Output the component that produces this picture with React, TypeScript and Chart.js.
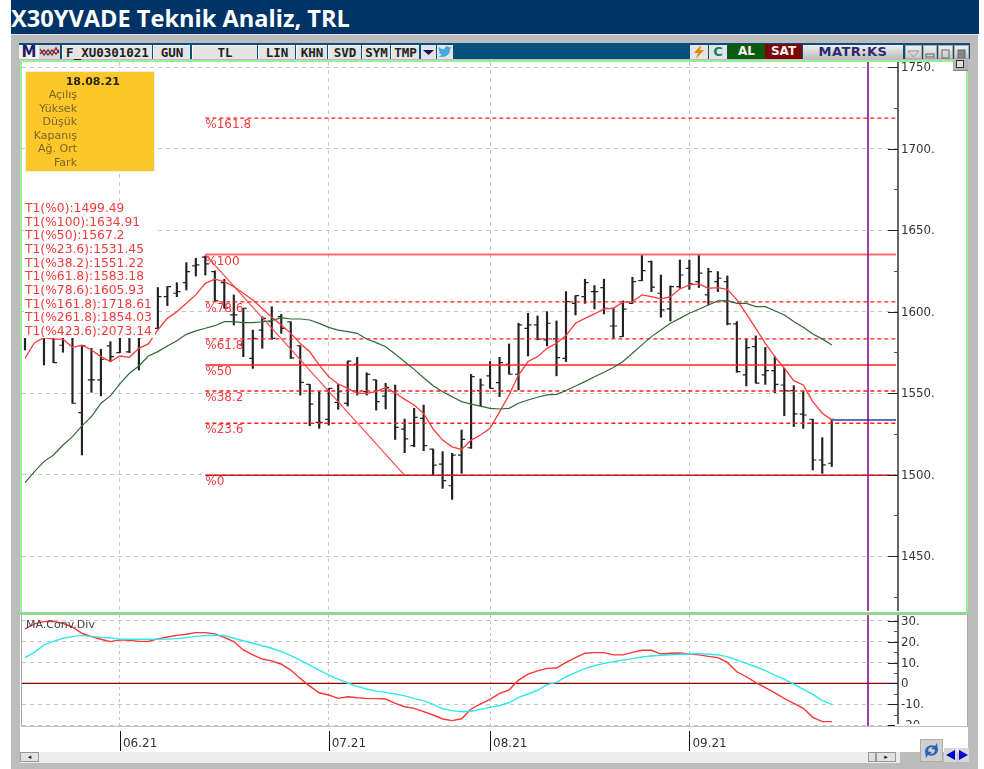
import React, { useEffect, useRef } from "react";
import { Chart, registerables } from "chart.js";

Chart.register(...registerables);

// ---------- price pane data (one entry per trading day, null = not visible) ----------
const highs = [1584.6,null,1584.2,1584.2,1584.2,1584.2,1579.3,1577.4,1576.8,1581.5,1584.6,1584.6,1584.6,1584.5,1614.7,1615.3,1617.7,1630,1632.7,1634.1,1624.9,1619.8,1610.2,1602,1588.6,1596.8,1602.9,1598.2,1593.7,1579,1555.3,1550.8,1552.8,1555.3,1569.6,1571.9,1562.4,1558,1555.9,1554.9,1534,1540.6,1542.6,1515.6,1514,1513,1527.3,1561.4,1558.6,1569.3,1571.9,1580.1,1592.8,1598.9,1597.3,1599.9,1594.2,1612.2,1609.7,1619.8,1615.9,1619.8,1602,1606.5,1621,1634.7,1631,1622.4,1615.7,1631.6,1631.6,1634.7,1626.5,1624.5,1621.8,1593.8,1583.2,1585,1578,1572.3,1565.2,1554.5,1550.9,1533.9,1522.6,1533.9];
const lows = [1576.4,null,1567.2,1568.6,1575,1543.7,1512,1550.4,1548.2,1569.3,1574.8,1574.8,1564.1,1583.9,1589.7,1603.6,1609.1,1613.2,1621.8,1622.4,1606.5,1602,1591.7,1572.3,1565.1,1577.4,1582.9,1586.6,1571.2,1548.7,1529.9,1528.3,1530.3,1540,1542,1548.7,1548.7,1539.5,1540.2,1521.5,1513.4,1517,1514.6,1499.7,1491.5,1484.7,1500.7,1516,1542,1552.9,1547.8,1561.5,1551.9,1572.7,1582.6,1578.9,1560.5,1569.3,1597.9,1605,1601.6,1598.5,1583.6,1584.6,1605,1618.9,1612.2,1596.5,1594.2,1614.2,1613.6,1614.7,1604,1612.2,1591.8,1562.7,1554.3,1556,1555.3,1550.2,1536.1,1529.4,1528.3,1502.8,1500.7,1504.9];
const opens = [null,null,null,null,1579.3,null,1538,1558,1558,1578.9,1574.8,1575.2,null,null,1589.7,1609.1,1611.2,1617.7,1628,1633.3,1624.5,1617.7,1597.9,1579.5,1571.2,1588.6,1593.7,1596.8,1593.7,1579,1555.3,1532,1533.8,1544.3,1543.6,1567.8,1550.8,1558,1548.1,1550.8,1527.9,1517.7,1534.4,1515.6,1506.4,1493.1,1511.9,1516.4,1551.4,1560.5,1556.4,1567.6,1561.5,1589.7,1591.8,1582.6,1583.2,1571.3,1605,1609.1,1612.2,1614.7,1591.1,1584.6,1605,1618.9,1630.6,1611.2,1601.6,1615.3,1626.5,1618.3,1610.2,1618.3,1618.3,1592.4,1561.1,1578.5,1561.1,1563.7,1554.9,1551.5,1537,1533.9,1508.9,1506.9];
const closes = [null,null,null,1568.6,null,1543.7,1578.9,1558,1570.7,1572.3,null,null,1584,null,1609.1,1615.3,1612.2,1624.5,1628.6,1629.2,1606.5,1602,1597.9,1602,1583.5,1595.8,1583.5,1589.6,1571.6,1556.5,1543.2,1532,1552.8,1550.8,1569.6,1549.8,1561.4,1544.7,1553.4,1528.9,1521.8,1535,1517.7,1505.8,1496.2,1511.9,1521.5,1560,1554.9,1552.9,1568.6,1561.5,1591.8,1591.8,1583,1592.8,1571.7,1606,1609.7,1617.7,1612.2,1602,1591.1,1601.4,1618.3,1625.1,1614.9,1601,1615.3,1622.4,1616.9,1623.5,1624.5,1620.4,1592.4,1563.1,1577.8,1556,1563.7,1555.3,1551.5,1537.2,1536.5,1508.9,1505.9,1533.9];
const maShort = [1571.3,1580.9,1584,1583,1583,1578,1579.3,1576.4,1572.3,1569.3,1572.7,1571.9,1577.4,1580.1,1588.7,1595.8,1599.9,1605,1610.2,1617.3,1619.8,1618.3,1615.3,1611.2,1607.1,1601.9,1596.4,1591.7,1586.6,1580.4,1575.3,1567.2,1560,1555.5,1552.8,1549.8,1549.8,1550.8,1553.4,1550.2,1546.1,1542.6,1537.5,1527.9,1521.1,1517,1515.4,1521.1,1524.2,1528.3,1538.4,1548.8,1561,1569.3,1572.3,1577.4,1580.5,1585.2,1592.8,1595.8,1598.5,1601.6,1602,1605.7,1606,1610.2,1609.1,1607.7,1609.1,1613.8,1616.3,1616.9,1614.2,1614.7,1613.6,1607.1,1598.5,1589.7,1580.5,1572.3,1565.2,1557.6,1554.9,1544.7,1537.6,1533.5];
const maLong = [1495,1501.8,1507.9,1512,1518.1,1523.2,1529.8,1535.5,1543.7,1548.2,1555.6,1562.1,1566.6,1572.7,1575.4,1578.9,1582.1,1586,1588.1,1589.7,1591.3,1593.8,1593.8,1593.2,1593.2,1593.7,1594.4,1596.2,1595.4,1595.4,1594.8,1592.7,1590.3,1588.6,1587.6,1586.6,1583.1,1580.9,1578.4,1573.9,1569.2,1564.5,1559.4,1554.5,1550.8,1547.7,1544.7,1543.2,1542,1540.6,1540.2,1540.6,1543.7,1545.7,1547.4,1548.8,1549.2,1551.5,1554.3,1557,1560,1562.7,1565.6,1569.3,1574.4,1579.5,1584.6,1588.7,1592.8,1595.8,1598.9,1601.4,1604,1606.5,1606.7,1605,1605,1603,1603,1600.5,1597.9,1593.8,1590.3,1586.2,1583.2,1579.5];

// ---------- Fibonacci levels ----------
const fibNames = ["%161.8","%100","%78.6","%61.8","%50","%38.2","%23.6","%0"];
const fibValues = [1718.61,1634.91,1605.93,1583.18,1567.2,1551.22,1531.45,1499.49];
const fibSummary = ["T1(%0):1499.49","T1(%100):1634.91","T1(%50):1567.2","T1(%23.6):1531.45","T1(%38.2):1551.22","T1(%61.8):1583.18","T1(%78.6):1605.93","T1(%161.8):1718.61","T1(%261.8):1854.03","T1(%423.6):2073.14"];
const lastClose = 1533.5;

// ---------- MACD pane data ----------
const macd = [26.2,28.6,29.7,29.8,28.9,27,24.1,22.5,21.2,20.1,20.9,20.7,20.2,20.2,21.4,22.3,23.1,23.6,24.4,24.4,23.8,22.1,20.1,16.1,13.7,11.7,10.8,9.2,6.4,2.4,-1.3,-4.5,-5.6,-7.2,-6.4,-6.9,-7.2,-7.3,-7.5,-9.6,-11.2,-12,-13.6,-15.2,-17.1,-17.9,-17,-12.3,-9.9,-7.7,-4.8,-3.2,1.6,4.5,6,7.2,7.4,10.1,12.4,14.5,14.8,14.8,13.7,13.7,14.9,15.9,15.9,14.1,14.5,14.6,14.1,13.7,13,12.4,10.1,5.6,3.2,0.4,-2,-4.6,-7.2,-9.6,-12,-16.3,-18.4,-18.4];
const signal = [12.4,14.9,18.5,20.2,21.7,22.5,23.1,22.6,22.1,21.8,21.3,21.2,21.2,21.2,21.3,21.3,21.5,22,22.6,23,23,23,21.7,20.5,19.3,18.1,16.9,15.3,13.3,11.2,8.8,6.4,4,2.1,0.2,-1.4,-2.7,-3.7,-4.3,-5.1,-6,-7.2,-8.3,-10.1,-12.2,-13.1,-13.6,-13.4,-12.5,-11.5,-10.6,-9.3,-6.7,-5.1,-3.3,-0.6,0.5,3.2,5.2,7.1,8.5,9.6,10.4,11.2,11.9,12.7,13.2,13.5,13.8,14,14.1,14.3,14,13.7,12.9,11.2,9.6,8,6.1,4,2,-0.3,-2.9,-5.3,-8.3,-10.1];

// ---------- axis labels ----------
const priceMajorTicks = [1750,1700,1650,1600,1550,1500,1450];
const priceMinorTicks = [1725,1675,1625,1575,1525,1475,1425];
const macdMajorTicks = [30,20,10,0,-10,-20];
const macdMinorTicks = [25,15,5,-5,-15];
const monthTicks = [10,32,49,70];
const monthLabels = ["06.21","07.21","08.21","09.21"];
const quoteLabels = ["Açılış","Yüksek","Düşük","Kapanış","Ağ. Ort","Fark"];

// ---------- scale window ----------
const X_MIN = -0.316;
const X_MAX = 91.98;
const X_CURSOR = 88.82;
const X_LINE_END = 91.77;
const PRICE_MIN = 1416.26;
const PRICE_MAX = 1753.07;
const MACD_MIN = -20.48;
const MACD_MAX = 32.88;
const FONT = '"DejaVu Sans", sans-serif';
const GRID = "#c6c6c6";

const idx = (a: any[]) => a.map((y, x) => ({ x, y }));

function tickLine(values: (number | null)[], side: number) {
  const pts: any[] = [];
  values.forEach((v, i) => {
    if (v === null) return;
    pts.push({ x: i + side * 0.38, y: v }, { x: i, y: v }, { x: i, y: null });
  });
  return pts;
}

function hLine(y: number, x0: number, x1: number, color: string, width: number, dash: number[] = []) {
  return {
    type: "line",
    data: [{ x: x0, y }, { x: x1, y }],
    borderColor: color,
    borderWidth: width,
    borderDash: dash,
    pointRadius: 0,
    order: 1,
  };
}

function vCursor(lo: number, hi: number) {
  return {
    type: "line",
    data: [{ x: X_CURSOR, y: lo }, { x: X_CURSOR, y: hi }],
    borderColor: "#800080",
    borderWidth: 1.5,
    pointRadius: 0,
    order: 0,
  };
}

function series(a: number[], color: string, width: number) {
  return { type: "line", data: idx(a), borderColor: color, borderWidth: width, pointRadius: 0, tension: 0, order: 0 };
}

function axisMarks(id: string, major: number[], minor: number[], months: boolean) {
  return {
    id,
    afterDatasetsDraw(chart: any) {
      const { ctx, scales } = chart;
      const y = scales.y;
      const x = scales.x;
      ctx.save();
      ctx.lineWidth = 1;
      major.forEach((v) => {
        const p = Math.round(y.getPixelForValue(v)) + 0.5;
        ctx.strokeStyle = "#222";
        ctx.beginPath();
        ctx.moveTo(x.right - 10, p);
        ctx.lineTo(x.right, p);
        ctx.stroke();
      });
      minor.forEach((v) => {
        const p = Math.round(y.getPixelForValue(v)) + 0.5;
        ctx.strokeStyle = "#555";
        ctx.beginPath();
        ctx.moveTo(x.right - 4, p);
        ctx.lineTo(x.right, p);
        ctx.stroke();
      });
      if (months) {
        ctx.strokeStyle = "#111";
        monthTicks.forEach((m) => {
          const p = Math.round(x.getPixelForValue(m)) + 0.5;
          ctx.beginPath();
          ctx.moveTo(p, y.bottom + 5);
          ctx.lineTo(p, y.bottom + 25);
          ctx.stroke();
        });
      }
      ctx.restore();
    },
  };
}

const fibText = {
  id: "fibText",
  afterDatasetsDraw(chart: any) {
    const { ctx, scales } = chart;
    ctx.save();
    ctx.font = `12px ${FONT}`;
    ctx.fillStyle = "#f23a3a";
    ctx.textBaseline = "middle";
    fibNames.forEach((n, i) => {
      ctx.fillText(n, scales.x.getPixelForValue(19), scales.y.getPixelForValue(fibValues[i]) + 7);
    });
    ctx.restore();
  },
};

function rightAxis(major: number[], format: (v: number) => string, min: number, max: number) {
  return {
    position: "right",
    min,
    max,
    afterBuildTicks: (s: any) => {
      s.ticks = major.map((value) => ({ value }));
    },
    afterFit: (s: any) => {
      s.width = 70;
      s.paddingTop = 0;
      s.paddingBottom = 0;
    },
    grid: {
      color: (c: any) => (c.tick && c.tick.value === 0 ? "rgba(0,0,0,0)" : GRID),
      drawTicks: false,
      lineWidth: 1,
    },
    border: { color: "#666", width: 2, dash: [4, 4] },
    ticks: {
      autoSkip: false,
      padding: 3,
      labelOffset: 1,
      color: "#333",
      font: { family: "DejaVu Sans", size: 11.8 },
      callback: (v: number) => format(v),
    },
  };
}

function bottomAxis(height: number, extraTicks: any, borderDash: number[]) {
  return {
    type: "linear",
    min: X_MIN,
    max: X_MAX,
    offset: false,
    afterBuildTicks: (s: any) => {
      s.ticks = monthTicks.map((value) => ({ value }));
    },
    afterFit: (s: any) => {
      s.height = height;
      s.paddingLeft = 0;
      s.paddingRight = 0;
    },
    ticks: extraTicks,
    grid: { color: GRID, drawTicks: false, offset: false },
    border: { display: false, dash: borderDash },
  };
}

function App() {
  const priceRef = useRef<HTMLCanvasElement>(null);
  const macdRef = useRef<HTMLCanvasElement>(null);

  useEffect(() => {
    const bars = highs.map((h, i) => ({ x: i, y: h === null ? null : [lows[i], h] }));
    const fibStyles: [string, number, number[]][] = [
      ["#ff1a1a", 1.3, [4, 3]],
      ["#ff6a6a", 2, []],
      ["#ff1a1a", 1.3, [4, 3]],
      ["#ff1a1a", 1.3, [4, 3]],
      ["#ff2020", 1.5, []],
      ["#ff1a1a", 1.3, [4, 3]],
      ["#ff1a1a", 1.3, [4, 3]],
      ["#d01818", 1.5, []],
    ];

    const price = new Chart(priceRef.current!, {
      type: "bar",
      data: {
        datasets: [
          { type: "bar", data: bars, backgroundColor: "#222", barThickness: 1.5, grouped: false, order: 3 },
          { type: "line", data: tickLine(opens, -1), borderColor: "#222", borderWidth: 1.2, pointRadius: 0, order: 2 },
          { type: "line", data: tickLine(closes, 1), borderColor: "#222", borderWidth: 1.2, pointRadius: 0, order: 2 },
          series(maLong, "#2f6b35", 1.2),
          series(maShort, "#ff3a3a", 1.3),
          ...fibValues.map((v, i) => hLine(v, 19, X_LINE_END, fibStyles[i][0], fibStyles[i][1], fibStyles[i][2])),
          {
            type: "line",
            data: [{ x: 19, y: fibValues[1] }, { x: 40, y: fibValues[7] }],
            borderColor: "#ff4a4a",
            borderWidth: 1.2,
            pointRadius: 0,
            order: 1,
          },
          hLine(lastClose, 85, X_LINE_END, "#6a6ab8", 2),
          vCursor(PRICE_MIN, PRICE_MAX),
        ] as any,
      },
      options: {
        animation: false,
        responsive: false,
        events: [],
        layout: { padding: 0 },
        plugins: { legend: { display: false }, tooltip: { enabled: false } },
        scales: {
          x: bottomAxis(0, { display: false }, [4, 4]),
          y: rightAxis(priceMajorTicks, (v) => `${v}.`, PRICE_MIN, PRICE_MAX),
        },
      } as any,
      plugins: [axisMarks("priceMarks", priceMajorTicks, priceMinorTicks, false), fibText],
    } as any);

    const macdChart = new Chart(macdRef.current!, {
      type: "line",
      data: {
        datasets: [
          hLine(0, X_MIN, 91.9, "#8b0000", 1.2),
          series(signal, "#2fe8ee", 1.4),
          series(macd, "#ff3434", 1.4),
          vCursor(MACD_MIN, MACD_MAX),
        ] as any,
      },
      options: {
        animation: false,
        responsive: false,
        events: [],
        layout: { padding: 0 },
        plugins: { legend: { display: false }, tooltip: { enabled: false } },
        scales: {
          x: bottomAxis(
            26,
            {
              align: "start",
              autoSkip: false,
              maxRotation: 0,
              labelOffset: 3,
              padding: 11,
              color: "#333",
              font: { family: "DejaVu Sans", size: 12 },
              callback: (v: number) => monthLabels[monthTicks.indexOf(v)] ?? "",
            },
            [3, 3],
          ),
          y: rightAxis(macdMajorTicks, (v) => (v === 0 ? "0" : `${v}.`), MACD_MIN, MACD_MAX),
        },
      } as any,
      plugins: [axisMarks("macdMarks", macdMajorTicks, macdMinorTicks, true)],
    } as any);

    return () => {
      price.destroy();
      macdChart.destroy();
    };
  }, []);

  const abs = (l: number, t: number, w: number, h: number, extra: React.CSSProperties = {}): React.CSSProperties => ({
    position: "absolute",
    left: l,
    top: t,
    width: w,
    height: h,
    boxSizing: "border-box",
    ...extra,
  });

  const btn = (label: string, l: number, r: number, size = 12.5) => (
    <div
      key={label}
      style={abs(l, 45, r - l, 14, {
        background: "#e4e4e4",
        borderTop: "1px solid #fafafa",
        borderLeft: "1px solid #fafafa",
        color: "#222",
        font: `bold ${size}px "DejaVu Sans Mono", monospace`,
        lineHeight: "13px",
        textAlign: "center",
        whiteSpace: "nowrap",
      })}
    >
      {label}
    </div>
  );

  const winBtn = (l: number, r: number, inner: React.ReactNode) => (
    <div
      style={abs(l, 45, r - l, 14, {
        background: "linear-gradient(#f0f0f0,#c8c8c8)",
        border: "1px solid #aaa",
      })}
    >
      {inner}
    </div>
  );

  return (
    <div style={{ position: "absolute", left: 0, top: 0, width: 984, height: 769, background: "#fff", overflow: "hidden" }}>
      {/* window frame */}
      <div style={abs(11, 34, 967, 735, { background: "#bcbcbc", borderTop: "1px solid #e6e6e6" })} />
      <div style={abs(11, 0, 968, 34, { background: "#003366" })} />
      <div
        style={abs(11, -1, 500, 34, {
          color: "#fff",
          font: 'bold 23.6px "Open Sans", sans-serif',
          lineHeight: "39px",
          whiteSpace: "nowrap",
        })}
      >
        X30YVADE Teknik Analiz, TRL
      </div>

      {/* toolbar */}
      <div style={abs(19, 43, 951, 16, { background: "#05507f" })} />
      <div style={abs(19, 45, 20, 14, { background: "#f2f2f2", color: "#1c1c6a", font: `bold 15px ${FONT}`, lineHeight: "14px", textAlign: "center" })}>M</div>
      <div style={abs(39, 45, 21, 14, { background: "#d8d8d8" })}>
        <svg width="21" height="14">
          <polyline points="1,4 5,10 9,5 13,10 17,3 20,8" fill="none" stroke="#c22" strokeWidth="1.5" />
          <polyline points="1,9 5,5 9,10 13,5 17,9 20,5" fill="none" stroke="#336" strokeWidth="1.2" />
        </svg>
      </div>
      {btn("F_XU0301021", 62, 152)}
      {btn("GUN", 153, 190)}
      {btn("TL", 192, 257)}
      {btn("LIN", 258, 295)}
      {btn("KHN", 296, 327)}
      {btn("SVD", 328, 361)}
      {btn("SYM", 362, 390)}
      {btn("TMP", 391, 419)}
      <div style={abs(421, 45, 15, 14, { background: "#e4e4e4" })}>
        <svg width="15" height="14"><polygon points="2,5 13,5 7.5,10" fill="#14145a" /></svg>
      </div>
      <div style={abs(437, 45, 16, 14, { background: "#e4e4e4" })}>
        <svg width="16" height="14">
          <path d="M1 11 C5 13 13 12 13 4 L15 2 L12.5 2.5 C10 0 7 2 7.5 4.5 C5 4.5 3 3 2 2 C1 4 2 6 3.5 7 L2 6.5 C2 8 3 9 5 9.5 C4 10.5 2.5 11 1 11 Z" fill="#3fa9e0" />
        </svg>
      </div>
      <div style={abs(690, 45, 18, 14, { background: "#e4e4e4" })}>
        <svg width="18" height="14"><polygon points="11,0 4,8 8,8 6,14 14,5 10,5" fill="#e08a10" /></svg>
      </div>
      <div style={abs(709, 45, 18, 14, { background: "#e4e4e4", color: "#0f7f5f", font: `bold 13px ${FONT}`, lineHeight: "14px", textAlign: "center" })}>C</div>
      <div style={abs(728, 44, 37, 15, { background: "#0c5a0c", color: "#f4f4f4", font: `bold 12px ${FONT}`, lineHeight: "15px", textAlign: "center" })}>AL</div>
      <div style={abs(765, 44, 37, 15, { background: "#7a0606", color: "#f4f4f4", font: `bold 12px ${FONT}`, lineHeight: "15px", textAlign: "center" })}>SAT</div>
      <div style={abs(803, 45, 100, 14, { background: "linear-gradient(#efefef,#bdbdbd)", color: "#2f2a70", font: `bold 13px ${FONT}`, lineHeight: "14px", textAlign: "center", letterSpacing: 0.5 })}>MATR:KS</div>
      {winBtn(905, 922, <svg width="15" height="12"><polygon points="2,3 13,3 7.5,9" fill="none" stroke="#999" /></svg>)}
      {winBtn(923, 937, <svg width="12" height="12"><rect x="2" y="6" width="8" height="3" fill="none" stroke="#666" /></svg>)}
      {winBtn(938, 953, <svg width="13" height="12"><rect x="3" y="2" width="7" height="8" fill="none" stroke="#666" /></svg>)}
      {winBtn(954, 969, <svg width="13" height="12"><rect x="3" y="2" width="7" height="8" fill="#888" stroke="#666" /></svg>)}

      {/* panes */}
      <div style={abs(20, 60, 948, 692, { background: "#fff" })} />
      <canvas ref={priceRef} width={946} height={549} style={abs(22, 62, 946, 549, { display: "block" })} />
      <canvas ref={macdRef} width={946} height={137} style={abs(22, 615, 946, 137, { display: "block" })} />

      {/* pane frames */}
      <div style={abs(20, 60, 948, 554, { border: "2px solid #97f297" })} />
      <div style={abs(20, 612, 948, 3, { background: "#90d890" })} />
      <div style={abs(21, 615, 1, 112, { background: "#a8a8a8" })} />
      <div style={abs(967, 615, 1, 112, { background: "#a8a8a8" })} />
      <div style={abs(21, 726, 947, 1, { background: "#c0c0c0" })} />
      <div style={abs(895, 724, 72, 2, { background: "#fff" })} />
      <div style={abs(898, 727, 69, 12, { background: "#fff" })} />

      {/* small pane button */}
      <div style={abs(953, 60, 15, 11, { background: "#b4b4b4", borderBottom: "1px solid #888" })}>
        <div style={abs(3, 0, 8, 8, { border: "1.5px solid #333", background: "#ddd" })} />
      </div>

      {/* info box */}
      <div style={abs(25, 71, 130, 101, { background: "#fcc729", border: "1px solid #eee" })} />
      <div style={abs(26, 75, 94, 14, { font: `bold 11px ${FONT}`, lineHeight: "14px", color: "#2c2410", textAlign: "right" })}>18.08.21</div>
      {quoteLabels.map((t, i) => (
        <div key={t} style={abs(26, 88 + i * 13.5, 51, 14, { font: `11px ${FONT}`, lineHeight: "14px", color: "#7b6428", textAlign: "right", whiteSpace: "nowrap" })}>
          {t}
        </div>
      ))}

      {/* fib summary box */}
      <div style={abs(24, 201, 131, 137, { background: "#fff" })} />
      {fibSummary.map((t, i) => (
        <div key={t} style={abs(25, 201 + i * 13.67, 132, 14, { font: `12.3px ${FONT}`, lineHeight: "14px", color: "#f23a3a", whiteSpace: "nowrap" })}>
          {t}
        </div>
      ))}

      {/* macd caption */}
      <div style={abs(26, 618, 90, 13, { font: `11px ${FONT}`, lineHeight: "13px", color: "#444", whiteSpace: "nowrap" })}>MA.Conv.Div</div>

      {/* scrollbars */}
      <div style={abs(20, 752, 880, 11, { background: "#ececec" })} />
      <div style={abs(20, 752, 19, 10, { background: "#e2e2e2", border: "1px solid #999", color: "#222", font: `7px ${FONT}`, lineHeight: "8px", textAlign: "center" })}>◂</div>
      <div style={abs(868, 752, 8, 10, { background: "#dedede", border: "1px solid #999" })} />
      <div style={abs(876, 752, 20, 10, { background: "#e2e2e2", border: "1px solid #999", color: "#222", font: `7px ${FONT}`, lineHeight: "8px", textAlign: "center" })}>▸</div>
      <div style={abs(920, 739, 23, 23, { background: "#cfcfcf", border: "1px solid #aaa" })}>
        <svg width="21" height="21">
          <path d="M4 12 C4 6 10 4 14 6 L16 3 L17 10 L10 9 L12 7.5 C9 6.5 7 8 7 12 Z" fill="#2a64b8" />
          <path d="M17 9 C17 15 11 17 7 15 L5 18 L4 11 L11 12 L9 13.5 C12 14.5 14 13 14 9 Z" fill="#2a64b8" />
        </svg>
      </div>
      <div style={abs(944, 748, 13, 14, { background: "#d8d8d8" })}>
        <svg width="13" height="14"><polygon points="11,2 11,12 2,7" fill="#0000d0" /></svg>
      </div>
      <div style={abs(958, 748, 11, 14, { background: "#d8d8d8" })}>
        <svg width="11" height="14"><polygon points="1,2 1,12 10,7" fill="#0000d0" /></svg>
      </div>
    </div>
  );
}

export default App;
